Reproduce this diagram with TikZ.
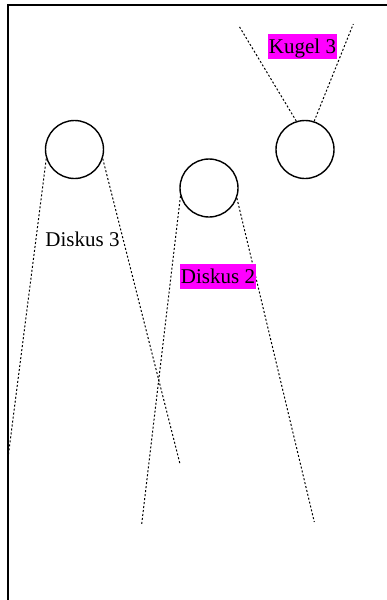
\documentclass[tikz,border=0pt]{standalone}
\usepackage{fontspec}
\setmainfont{Liberation Serif}
\definecolor{mag}{RGB}{255,0,255}
\begin{document}
\begin{tikzpicture}[x=1pt,y=-1pt,
  ball/.style={circle,draw,line width=1.4pt,minimum size=58pt,inner sep=0pt},
  ray/.style={line width=1pt,dash pattern=on 2pt off 2pt},
  lbl/.style={anchor=base,font=\fontsize{21}{25}\selectfont,inner xsep=1pt,inner ysep=2.5pt,text height=17pt,text depth=3pt},
  hl/.style={lbl,fill=mag}]
\useasboundingbox (0,0) rectangle (387,600);
\draw[line width=2pt] (7.5,600) -- (7.5,5) -- (387,5);
\node[ball] (c1) at (74.5,149.5) {};
\node[ball] (c2) at (209,188) {};
\node[ball] (c3) at (305,149.5) {};
\coordinate (c3l) at (239,26);
\coordinate (c3r) at (353.3,24);
\coordinate (c1l) at (8,458);
\coordinate (c1r) at (180,464);
\coordinate (c2l) at (141.7,524);
\coordinate (c2r) at (314.3,522);
\draw[ray] (c3.107) -- (c3l);
\draw[ray] (c3.72) -- (c3r);
\draw[ray] (c1.198) -- (c1l);
\draw[ray] (c1.342) -- (c1r);
\draw[ray] (c2.196) -- (c2l);
\draw[ray] (c2.340) -- (c2r);
\node[hl] (k3) at (302.5,53.7) {Kugel 3};
\node[hl] (d2) at (218,283.8) {Diskus 2};
\node[lbl] (d3) at (82.5,246.3) {Diskus 3};
\end{tikzpicture}
\end{document}
